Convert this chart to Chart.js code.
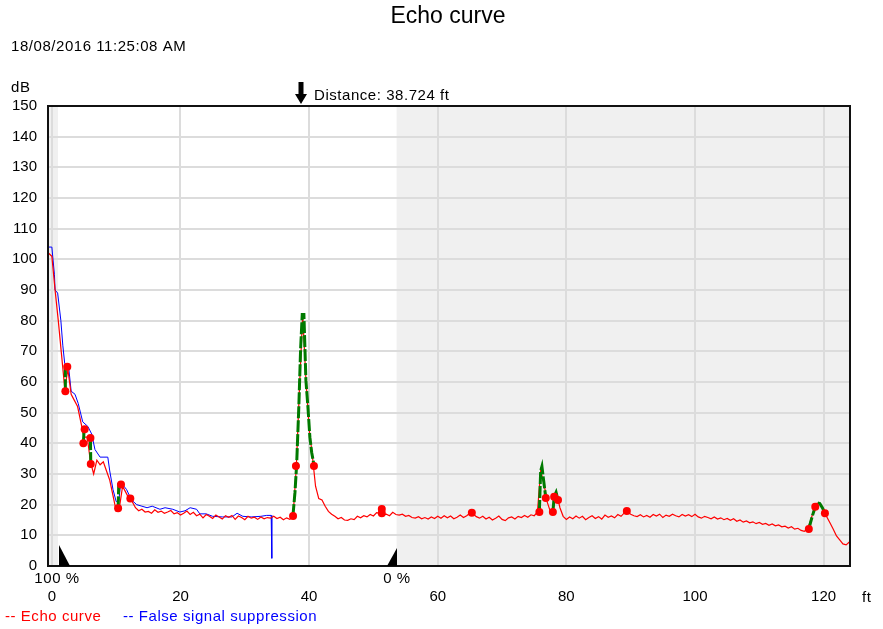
<!DOCTYPE html>
<html>
<head>
<meta charset="utf-8">
<script src="https://cdn.jsdelivr.net/npm/chart.js@4.4.0/dist/chart.umd.min.js"></script>
<style>
  html, body { margin: 0; padding: 0; background: #fff; }
</style>
</head>
<body>
<canvas id="echoChart" width="883" height="629"></canvas>
<script>
// echo curve sampled every 0.5 ft starting at -0.5 ft (dB)
const echoStartFt = -0.5;
const echoStepFt = 0.5;
const echoDb = [
  102, 101, 90, 80, 69, 58, 64, 56, 54, 52,
  47, 42, 42, 34, 30, 34.5, 33, 34, 31, 28,
  23, 18, 19, 26, 24, 22, 21, 19, 18, 18.5,
  17.6, 17.8, 17.2, 18.3, 17.5, 17.9, 17.2, 17.6, 18.1, 17.0,
  17.4, 16.6, 17.2, 17.9, 16.8, 17.5, 16.4, 16.9, 15.7, 16.8,
  16.2, 15.5, 16.6, 16.0, 15.3, 16.4, 15.9, 16.5, 15.2, 16.3,
  15.8, 15.1, 16.2, 15.6, 15.9, 15.2, 16.0, 15.4, 15.8, 15.6,
  16.2, 15.5, 15.9, 15.1, 15.7, 15.2, 16.0, 32, 58, 82,
  61, 45, 36, 26, 22, 21.5, 19.5, 17.8, 16.9, 16.2,
  15.4, 15.8, 15.0, 14.9, 15.4, 15.1, 16.2, 15.7, 16.4, 16.0,
  16.8, 16.3, 17.4, 17.2, 16.6, 16.9, 16.4, 17.5, 16.8, 16.6,
  16.9, 16.2, 16.5, 15.8, 15.6, 16.1, 15.4, 15.8, 15.3, 16.0,
  15.5, 16.2, 15.6, 16.4, 15.7, 16.3, 15.4, 15.9, 16.6, 15.8,
  16.4, 17.2, 17.0, 16.1, 15.6, 16.2, 15.3, 15.9, 15.0, 15.6,
  16.3, 15.2, 14.8, 15.7, 16.0, 15.3, 16.2, 15.8, 16.5, 15.9,
  16.7, 16.4, 17.6, 31, 27, 21, 17.8, 19, 23.5, 19,
  16.2, 15.2, 16.0, 15.4, 16.3, 15.6, 16.2, 15.1, 15.8, 16.4,
  15.5, 16.1, 15.3, 16.6, 15.9, 16.3, 15.7, 16.8, 16.2, 17.3,
  17.6, 16.9, 16.4, 16.1, 16.7, 16.0, 16.5, 15.9, 16.8, 16.3,
  16.9, 15.8, 16.6, 16.2, 16.9, 16.4, 16.0, 16.8, 16.3, 16.7,
  16.1, 16.9, 16.0, 15.6, 16.2, 15.8, 15.4, 16.0, 15.3, 15.7,
  15.1, 15.5, 14.9, 15.4, 14.6, 15.0, 14.3, 14.7, 14.1, 14.4,
  13.8, 14.2, 13.6, 13.9, 13.3, 13.7, 13.1, 13.4, 12.8, 13.0,
  12.4, 12.8, 12.0, 12.3, 11.6, 11.3, 12.1, 15, 18.5, 20.5,
  20.3, 18, 16, 14, 12, 9.8, 8.5, 7.2, 6.9, 7.8
];

// false signal suppression curve
const suppFt = [-0.6, 0, 0.4, 0.5, 0.9, 1.4, 1.7, 2.0, 2.6, 3.0, 3.6, 4.1, 4.8, 5.6, 6.2, 6.7, 7.5, 8.7, 9.0, 9.5,
  10.0, 10.4, 10.7, 11.0, 11.6, 12.4, 13.2, 14.0, 14.8, 15.6, 16.8, 17.6, 18.8, 19.9, 20.7, 21.5, 22.5, 23.0, 24.0, 25.0,
  26.5, 28.0, 28.8, 29.7, 31.0, 32.5, 33.4, 34.1, 34.2];
const suppDb = [104, 104, 95, 90, 89, 80, 72, 66, 65, 57, 56, 53, 47, 45.5, 43, 38, 35.5, 35.5, 31, 25,
  21, 21, 27, 26.5, 25, 21.5, 20, 19.5, 19, 19.5, 18.5, 19, 18.5, 17.6, 18, 19, 18.5, 17, 17, 16.2,
  16, 16, 17.2, 16.2, 16, 16.2, 16.5, 16.5, 2.5];

// detected echo sections (null = break)
const echoSectFt = [2.1, 2.1, 2.4, null, 4.9, 5.0, 5.1, null, 6.0, 6.05, null, 10.3, 10.4, 10.75, null,
  37.48, 37.8, 38.06, 38.4, 38.68, 38.93, 39.19, 39.5, 39.81, 40.12, 40.4, 40.75, null,
  75.8, 76.0, 76.2, 76.4, 76.8, null, 77.9, 78.1, 78.4, 78.7, null,
  117.7, 118.2, 118.7, 119.0, 119.4, 119.8, 120.2];
const echoSectDb = [57, 65, 65, null, 40, 44, 44.6, null, 41.7, 33.3, null, 18.8, 26.6, 26.6, null,
  16.3, 24, 33, 52, 71, 82, 82, 60.6, 52, 42, 37, 33, null,
  17.6, 31, 32.5, 29, 22.2, null, 17.6, 22.6, 24, 21.5, null,
  12.1, 16, 19.3, 20.6, 20.4, 19, 17.2];

// echo markers
const markFt = [2.1, 2.4, 4.9, 5.1, 6.0, 6.05, 10.3, 10.75, 12.2, 37.5, 37.95, 40.75, 51.3, 51.3,
  65.3, 75.8, 76.8, 77.9, 78.1, 78.7, 89.4, 117.7, 118.7, 120.2];
const markDb = [57, 65, 40, 44.6, 41.7, 33.3, 18.8, 26.6, 22, 16.3, 32.6, 32.6, 18.6, 17.2,
  17.4, 17.6, 22.2, 17.6, 22.6, 21.5, 17.9, 12.1, 19.3, 17.2];

const xTicks = [0, 20, 40, 60, 80, 100, 120];
const yTicks = [0, 10, 20, 30, 40, 50, 60, 70, 80, 90, 100, 110, 120, 130, 140, 150];

const distanceFt = 38.724;
const fullFt = 1.1;    // 100 %
const emptyFt = 53.6;  // 0 %
const blockFt = 0.95;  // blocking distance

const FONT = '"Liberation Sans", Arial, sans-serif';

const toPts = (xs, ys) => xs.map((x, i) => ({x: x, y: ys[i]}));
const echoPts = echoDb.map((v, i) => ({x: echoStartFt + i * echoStepFt, y: v}));

// gray zones, frame, markers, texts
const decoPlugin = {
  id: 'deco',
  beforeDraw(chart) {
    const {ctx, chartArea: a, scales: {x}} = chart;
    ctx.save();
    ctx.fillStyle = '#fff';
    ctx.fillRect(0, 0, chart.width, chart.height);
    ctx.fillStyle = '#f0f0f0';
    const e = x.getPixelForValue(emptyFt);
    ctx.fillRect(e, a.top, a.right - e, a.bottom - a.top);
    const b = x.getPixelForValue(blockFt);
    ctx.fillRect(a.left, a.top, b - a.left, a.bottom - a.top);
    ctx.restore();
  },
  afterDraw(chart) {
    const {ctx, chartArea: a, scales: {x}} = chart;
    ctx.save();
    // frame
    ctx.strokeStyle = '#111';
    ctx.lineWidth = 2;
    ctx.strokeRect(a.left, a.top, a.right - a.left, a.bottom - a.top);

    // level markers
    ctx.fillStyle = '#000';
    const f = Math.round(x.getPixelForValue(fullFt));
    ctx.beginPath();
    ctx.moveTo(f, a.bottom - 21); ctx.lineTo(f, a.bottom); ctx.lineTo(f + 11, a.bottom);
    ctx.closePath(); ctx.fill();
    const e = Math.round(x.getPixelForValue(emptyFt));
    ctx.beginPath();
    ctx.moveTo(e, a.bottom - 18); ctx.lineTo(e, a.bottom); ctx.lineTo(e - 10, a.bottom);
    ctx.closePath(); ctx.fill();

    // distance arrow
    const d = Math.round(x.getPixelForValue(distanceFt));
    ctx.fillRect(d - 2.5, 82, 5, 13);
    ctx.beginPath();
    ctx.moveTo(d - 6, 94); ctx.lineTo(d + 6, 94); ctx.lineTo(d, 104);
    ctx.closePath(); ctx.fill();

    ctx.textBaseline = 'middle';
    ctx.fillStyle = '#000';
    ctx.font = '23px ' + FONT;
    ctx.textAlign = 'center';
    ctx.fillText('Echo curve', 448, 17);

    ctx.font = '15px ' + FONT;
    ctx.letterSpacing = '0.55px';
    ctx.textAlign = 'left';
    ctx.fillText('18/08/2016 11:25:08 AM', 11, 47);
    ctx.fillText('dB', 11, 88);
    ctx.fillText('Distance: 38.724 ft', d + 13, 96);
    ctx.fillText('ft', 862, 598);

    ctx.textAlign = 'center';
    ctx.fillText('100 %', f - 2, 579);
    ctx.fillText('0 %', e, 579);

    ctx.textAlign = 'left';
    ctx.fillStyle = '#ff0000';
    ctx.fillText('-- Echo curve', 5, 617);
    ctx.fillStyle = '#0000ff';
    ctx.fillText('-- False signal suppression', 123, 617);
    ctx.restore();
  }
};

const ctx = document.getElementById('echoChart').getContext('2d');
const myChart = new Chart(ctx, {
  type: 'line',
  data: {
    datasets: [
      {
        label: 'Markers',
        data: toPts(markFt, markDb),
        showLine: false,
        pointRadius: 4,
        pointBackgroundColor: '#ff0000',
        pointBorderWidth: 0
      },
      {
        label: 'Echo',
        data: toPts(echoSectFt, echoSectDb),
        borderColor: '#007a00',
        borderWidth: 3,
        borderDash: [12, 2],
        pointRadius: 0,
        spanGaps: false
      },
      {
        label: 'Echo curve',
        data: echoPts,
        borderColor: '#ff0000',
        borderWidth: 1.2,
        pointRadius: 0
      },
      {
        label: 'False signal suppression',
        data: toPts(suppFt, suppDb),
        borderColor: '#0000ff',
        borderWidth: 1,
        pointRadius: 0
      }
    ]
  },
  options: {
    responsive: false,
    animation: false,
    events: [],
    layout: {padding: {top: 106, right: 33, left: 0, bottom: 0}},
    plugins: {
      legend: {display: false},
      title: {display: false},
      tooltip: {enabled: false}
    },
    scales: {
      x: {
        type: 'linear',
        min: -0.6,
        max: 124.1,
        afterBuildTicks: (s) => { s.ticks = xTicks.map(v => ({value: v})); },
        afterFit: (s) => { s.height = 63; },
        grid: {color: '#dcdcdc', lineWidth: 2, drawTicks: false},
        border: {display: false},
        ticks: {padding: 22, color: '#000', font: {family: FONT, size: 15}, maxRotation: 0, autoSkip: false}
      },
      y: {
        min: 0,
        max: 150,
        afterBuildTicks: (s) => { s.ticks = yTicks.map(v => ({value: v})); },
        afterFit: (s) => { s.width = 48; },
        grid: {color: '#dcdcdc', lineWidth: 2, drawTicks: false},
        border: {display: false},
        ticks: {padding: 11, color: '#000', font: {family: FONT, size: 15}, autoSkip: false}
      }
    }
  },
  plugins: [decoPlugin]
});
</script>
</body>
</html>
